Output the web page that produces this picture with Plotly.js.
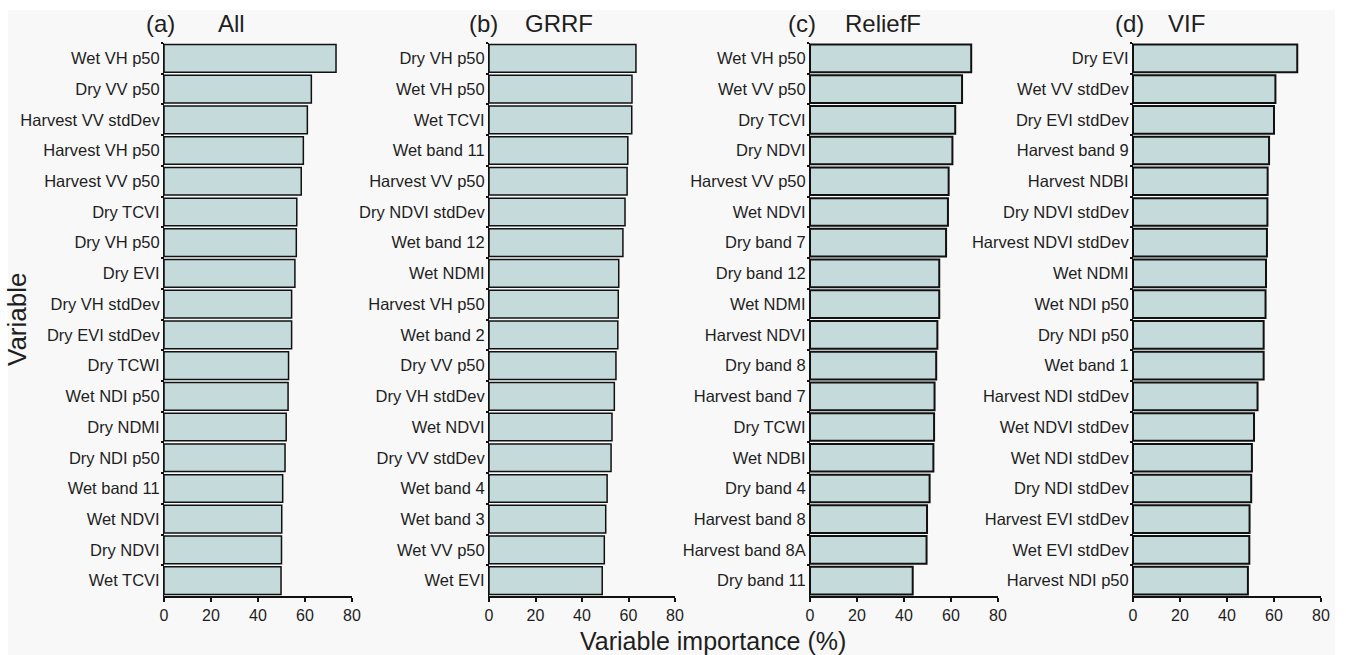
<!DOCTYPE html>
<html>
<head>
<meta charset="utf-8">
<script src="https://cdn.plot.ly/plotly-3.0.1.min.js"></script>
<style>html,body{margin:0;padding:0;background:#fff;}#chart{width:1346px;height:655px;}</style>
</head>
<body>
<div id="chart"></div>
<script>
// ---- data ----
const varsAll = ["Wet VH p50","Dry VV p50","Harvest VV stdDev","Harvest VH p50","Harvest VV p50","Dry TCVI","Dry VH p50","Dry EVI","Dry VH stdDev","Dry EVI stdDev","Dry TCWI","Wet NDI p50","Dry NDMI","Dry NDI p50","Wet band 11","Wet NDVI","Dry NDVI","Wet TCVI"];
const impAll = [73.2,62.7,61.0,59.3,58.4,56.5,56.3,55.7,54.3,54.3,53.0,52.8,52.0,51.5,50.5,50.1,50.0,49.8];

const varsGRRF = ["Dry VH p50","Wet VH p50","Wet TCVI","Wet band 11","Harvest VV p50","Dry NDVI stdDev","Wet band 12","Wet NDMI","Harvest VH p50","Wet band 2","Dry VV p50","Dry VH stdDev","Wet NDVI","Dry VV stdDev","Wet band 4","Wet band 3","Wet VV p50","Wet EVI"];
const impGRRF = [63.2,61.5,61.4,59.7,59.4,58.5,57.6,55.8,55.6,55.4,54.6,53.9,52.9,52.5,50.8,50.2,49.6,48.7];

const varsRelief = ["Wet VH p50","Wet VV p50","Dry TCVI","Dry NDVI","Harvest VV p50","Wet NDVI","Dry band 7","Dry band 12","Wet NDMI","Harvest NDVI","Dry band 8","Harvest band 7","Dry TCWI","Wet NDBI","Dry band 4","Harvest band 8","Harvest band 8A","Dry band 11"];
const impRelief = [68.6,64.7,61.8,60.6,59.0,58.7,57.9,55.0,55.0,54.2,53.7,53.0,52.8,52.5,50.9,49.8,49.6,43.7];

const varsVIF = ["Dry EVI","Wet VV stdDev","Dry EVI stdDev","Harvest band 9","Harvest NDBI","Dry NDVI stdDev","Harvest NDVI stdDev","Wet NDMI","Wet NDI p50","Dry NDI p50","Wet band 1","Harvest NDI stdDev","Wet NDVI stdDev","Wet NDI stdDev","Dry NDI stdDev","Harvest EVI stdDev","Wet EVI stdDev","Harvest NDI p50"];
const impVIF = [69.9,60.6,60.0,57.9,57.3,57.2,57.0,56.6,56.4,55.6,55.6,53.0,51.5,50.6,50.3,49.6,49.5,48.9];

const panelLetters = ["(a)","(b)","(c)","(d)"];
const panelNames = ["All","GRRF","ReliefF","VIF"];
const xTicks = [0,20,40,60,80];

// ---- layout ----
const W = 1346, H = 655;
const FONT = "Liberation Sans, Arial, sans-serif";
const panels = [
  {vars: varsAll, imp: impAll, x0: 164, x1: 352, lw: 1.5, lx: 160, nx: 231},
  {vars: varsGRRF, imp: impGRRF, x0: 489, x1: 675, lw: 1.5, lx: 483, nx: 559},
  {vars: varsRelief, imp: impRelief, x0: 810, x1: 998, lw: 2, lx: 802, nx: 883},
  {vars: varsVIF, imp: impVIF, x0: 1133, x1: 1321, lw: 2, lx: 1129, nx: 1186}
];
const yTop = 43, yBot = 596;

const traces = [];
const layout = {
  width: W, height: H,
  margin: {l: 0, r: 0, t: 0, b: 0},
  paper_bgcolor: "#ffffff",
  plot_bgcolor: "rgba(0,0,0,0)",
  showlegend: false,
  font: {family: FONT, color: "#1e1e1e"},
  shapes: [{type: "rect", xref: "paper", yref: "paper", x0: 8/W, x1: 1335/W, y0: 0, y1: 1 - 10/H,
            fillcolor: "#f8f8f8", line: {width: 0}, layer: "below"}],
  annotations: []
};

panels.forEach((p, i) => {
  const n = i + 1;
  const xa = n === 1 ? "x" : "x" + n;
  const ya = n === 1 ? "y" : "y" + n;
  traces.push({
    type: "bar", orientation: "h",
    x: p.imp, y: p.vars,
    xaxis: xa, yaxis: ya,
    marker: {color: "#c5dada", line: {color: "#111", width: p.lw}},
    hoverinfo: "x+y"
  });
  const dom = [p.x0 / W, p.x1 / W];
  const ydom = [1 - yBot / H, 1 - yTop / H];
  layout["xaxis" + (n === 1 ? "" : n)] = {
    domain: dom, anchor: ya, range: [0, 80], tickvals: xTicks, ticktext: xTicks.map(String),
    showline: true, linecolor: "#111", linewidth: 2, ticks: "outside", ticklen: 4, tickwidth: 2,
    tickcolor: "#111", showgrid: false, zeroline: false, fixedrange: true,
    tickfont: {size: 16, color: "#1e1e1e", family: FONT}
  };
  // overlay axis for ticks crossing the axis line
  layout["xaxis" + (n + 4)] = {
    domain: dom, anchor: ya, overlaying: xa, range: [0, 80], tickvals: xTicks,
    showline: false, ticks: "inside", ticklen: 5, tickwidth: 2, tickcolor: "#111",
    showticklabels: false, showgrid: false, zeroline: false, fixedrange: true
  };
  layout["yaxis" + (n === 1 ? "" : n)] = {
    domain: ydom, anchor: xa, range: [p.vars.length - 0.5, -0.5],
    type: "category", showline: true, linecolor: "#111", linewidth: 1,
    ticks: "outside", tickson: "boundaries", ticklen: 2, tickwidth: 2, tickcolor: "#111",
    showgrid: false, zeroline: false, fixedrange: true,
    tickfont: {size: 16.5, color: "#1e1e1e", family: FONT}
  };
  layout.annotations.push({
    text: panelLetters[i], xref: "paper", yref: "paper", x: p.lx / W, y: 1 - 24 / H,
    xanchor: "center", yanchor: "middle", showarrow: false, font: {size: 24, family: FONT, color: "#1e1e1e"}
  });
  layout.annotations.push({
    text: panelNames[i], xref: "paper", yref: "paper", x: p.nx / W, y: 1 - 24 / H,
    xanchor: "center", yanchor: "middle", showarrow: false, font: {size: 24, family: FONT, color: "#1e1e1e"}
  });
});
layout.bargap = 0.1;

layout.annotations.push({
  text: "Variable importance (%)", xref: "paper", yref: "paper", x: 713 / W, y: 1 - 641 / H,
  xanchor: "center", yanchor: "middle", showarrow: false, font: {size: 25, family: FONT, color: "#1e1e1e"}
});
layout.annotations.push({
  text: "Variable", xref: "paper", yref: "paper", x: 17 / W, y: 1 - 320 / H, textangle: -90,
  xanchor: "center", yanchor: "middle", showarrow: false, font: {size: 26, family: FONT, color: "#1e1e1e"}
});

Plotly.newPlot("chart", traces, layout, {displayModeBar: false, staticPlot: true});
</script>
</body>
</html>
